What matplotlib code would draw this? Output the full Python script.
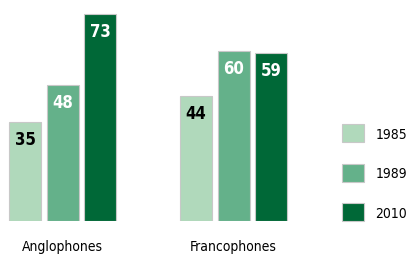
import matplotlib

matplotlib.use("Agg")
import matplotlib.pyplot as plt
import numpy as np

groups = ["Anglophones", "Francophones"]
years = ["1985", "1989", "2010"]
values = {
    "1985": [35, 44],
    "1989": [48, 60],
    "2010": [73, 59],
}
colors = ["#b0d9bb", "#64b18a", "#006837"]
label_colors = ["black", "white", "white"]

plt.rcParams["font.family"] = ["DejaVu Sans"]
plt.rcParams["font.stretch"] = "condensed"

fig = plt.figure(figsize=(4.11, 2.55), dpi=100)
# axes spans full width, bottom at the bar baseline
ax = fig.add_axes((0, 33 / 255, 1, 222 / 255))

pitch = 37.5 / 171
width = 32 / 171
x = np.arange(len(groups))
for i, year in enumerate(years):
    pos = x + (i - 1) * pitch
    bars = ax.bar(pos, values[year], width, color=colors[i],
                  edgecolor="#c8c8c8", linewidth=0.8, label=year)
    for b, v in zip(bars, values[year]):
        ax.text(b.get_x() + b.get_width() / 2, v - 6, str(v),
                ha="center", va="center", fontsize=12, fontweight="bold",
                color=label_colors[i])

ax.set_xlim(-62.5 / 171, (411 - 62.5) / 171)
ax.set_ylim(0, 222 / 2.84)
for s in ax.spines.values():
    s.set_visible(False)
ax.set_yticks([])
ax.set_xticks(x)
ax.set_xticklabels(groups, fontsize=10)
ax.tick_params(axis="x", length=0, pad=13)

ax.legend(loc="lower left", bbox_to_anchor=(342 / 411, 0), frameon=False,
          fontsize=10, handlelength=1.55, handleheight=1.6,
          labelspacing=1.55, handletextpad=0.85, borderpad=0,
          borderaxespad=0)

fig.savefig("out.png", dpi=100)
